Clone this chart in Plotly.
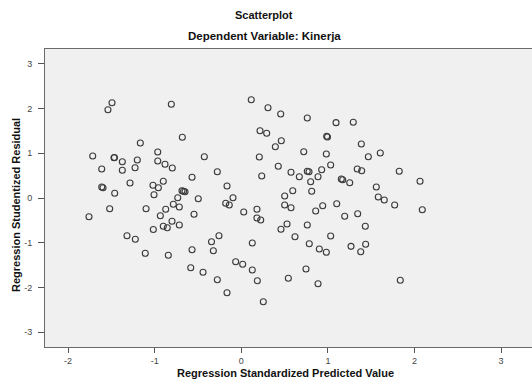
import plotly.graph_objects as go

# Regression Standardized Predicted Value
pred = [-1.493, -1.540, -0.808, -0.681, -1.166, -1.716, -1.470, -1.465, -1.374, -1.201,
        -0.965, -0.965, -0.881, -0.797, -0.427, -1.612, -1.374, -1.227, -1.285, -0.901,
        -1.020, -0.958, -1.008, -1.612, -1.597, -1.462, -0.569, -0.685, -0.667, -0.650,
        -0.734, -0.497, -0.785, -0.716, -0.873, -0.935, -0.546, -1.100, -1.520, -1.759,
        -0.800, -0.716, -0.901, -0.855, -1.016,
        0.115, 0.308, 0.455, 0.762, 1.094, 1.293, 0.216, 0.293, 0.462, 0.393,
        0.986, 0.995, 1.386, 0.721, 0.982, 0.208, 1.467, -0.277, 0.427, 0.574,
        0.762, 0.782, 0.928, 1.032, 1.339, 1.390, 0.236, 0.670, 0.886, 0.801,
        1.155, 1.171, 1.252, -0.165, 0.594, 0.813, -0.096, -0.180, -0.139, 0.501,
        0.501, 0.574, 0.940, 1.102, 0.028, 0.181, 0.181, 0.224, 0.859, 1.194,
        1.344, 0.528, 0.762, 1.432, 0.458,
        1.605, 1.824, 2.064, 1.559, 1.582, 1.651, 1.771, 2.090,
        -1.320, -1.224, -1.109, -0.843, -0.569, -0.584, -0.442, -0.344,
        -0.258, -0.323, -0.277, -0.165, -0.065, 0.016, 0.127, 0.127, 0.185, 0.254,
        0.620, 0.785, 0.901, 0.982, 1.032, 0.543, 0.747, 0.886, 1.267, 1.379,
        1.436, 1.836]

# Regression Studentized Residual
resid = [2.132, 1.975, 2.096, 1.358, 1.230, 0.940, 0.902, 0.905, 0.812, 0.850,
         1.029, 0.828, 0.754, 0.671, 0.924, 0.649, 0.620, 0.678, 0.336, 0.374,
         0.284, 0.230, 0.074, 0.246, 0.230, 0.105, 0.463, 0.163, 0.150, 0.141,
         0.007, -0.016, -0.141, -0.201, -0.253, -0.396, -0.365, -0.239, -0.239, -0.418,
         -0.521, -0.604, -0.633, -0.667, -0.705,
         2.199, 2.020, 1.879, 1.790, 1.685, 1.694, 1.506, 1.447, 1.282, 1.148,
         1.380, 1.365, 1.208, 1.036, 0.984, 0.917, 0.924, 0.588, 0.709, 0.575,
         0.597, 0.588, 0.633, 0.738, 0.649, 0.611, 0.492, 0.477, 0.477, 0.365,
         0.425, 0.409, 0.342, 0.268, 0.163, 0.150, 0.007, -0.119, -0.157, 0.045,
         -0.157, -0.217, -0.172, -0.128, -0.313, -0.253, -0.447, -0.492, -0.291, -0.409,
         -0.351, -0.582, -0.604, -0.633, -0.700,
         1.007, 0.597, 0.374, 0.246, 0.022, -0.045, -0.157, -0.262,
         -0.843, -0.924, -1.237, -1.282, -1.157, -1.559, -1.662, -0.978,
         -0.843, -1.179, -1.828, -2.119, -1.425, -1.483, -1.007, -1.611, -1.850, -2.320,
         -0.866, -1.022, -1.141, -1.215, -0.850, -1.796, -1.588, -1.917, -1.081, -1.201,
         -1.036, -1.841]

x_ticks = [-2, -1, 0, 1, 2, 3]
x_tick_labels = ["-2", "-1", "0", "1", "2", "3"]
y_ticks = [-3, -2, -1, 0, 1, 2, 3]
y_tick_labels = ["-3", "-2", "-1", "0", "1", "2", "3"]

title_main = "Scatterplot"
title_sub = "Dependent Variable: Kinerja"
x_title = "Regression Standardized Predicted Value"
y_title = "Regression Studentized Residual"

FONT = "Liberation Sans, Arial, sans-serif"

fig = go.Figure()
fig.add_trace(go.Scatter(
    x=pred, y=resid, mode="markers",
    marker=dict(symbol="circle-open", size=6, color="#3a3a3a", line=dict(width=1.1)),
    showlegend=False, hoverinfo="skip",
))

fig.update_layout(
    width=532, height=382,
    margin=dict(l=45, r=0, t=49, b=35),
    paper_bgcolor="white",
    plot_bgcolor="#f0f0f0",
    font=dict(family=FONT, size=9, color="#333"),
    xaxis=dict(
        range=[-2.267, 3.357], tickvals=x_ticks, ticktext=x_tick_labels,
        showgrid=False, zeroline=False, showline=True, linecolor="#6a6a6a",
        linewidth=1, mirror=True, ticks="outside", ticklen=5, tickcolor="#555",
        tickfont=dict(size=9, color="#444"),
    ),
    yaxis=dict(
        range=[-3.333, 3.333], tickvals=y_ticks, ticktext=y_tick_labels,
        showgrid=False, zeroline=False, showline=True, linecolor="#6a6a6a",
        linewidth=1, ticks="outside", ticklen=6, tickcolor="#555",
        ticklabelstandoff=4,
        tickfont=dict(size=9, color="#444"),
    ),
    annotations=[
        dict(text="<b>%s</b>" % title_main, xref="paper", yref="paper",
             x=0.4497, y=1.114, showarrow=False, xanchor="center", yanchor="middle",
             font=dict(family=FONT, size=11, color="#111")),
        dict(text="<b>%s</b>" % title_sub, xref="paper", yref="paper",
             x=0.4497, y=1.0436, showarrow=False, xanchor="center", yanchor="middle",
             font=dict(family=FONT, size=11.5, color="#111")),
        dict(text="<b>%s</b>" % x_title, xref="paper", yref="paper",
             x=0.4934, y=-0.087, showarrow=False, xanchor="center", yanchor="middle",
             font=dict(family=FONT, size=11, color="#111")),
        dict(text="<b>%s</b>" % y_title, xref="paper", yref="paper",
             x=-0.0595, y=0.4765, showarrow=False, xanchor="center", yanchor="middle",
             textangle=-90, font=dict(family=FONT, size=11, color="#111")),
    ],
)

# remove the default 8px page margin so the figure fills the 532x382 window exactly
fig.write_html(
    "out.html",
    config={"displayModeBar": False, "staticPlot": True},
    post_script="document.body.style.margin='0';document.body.style.overflow='hidden';",
)
